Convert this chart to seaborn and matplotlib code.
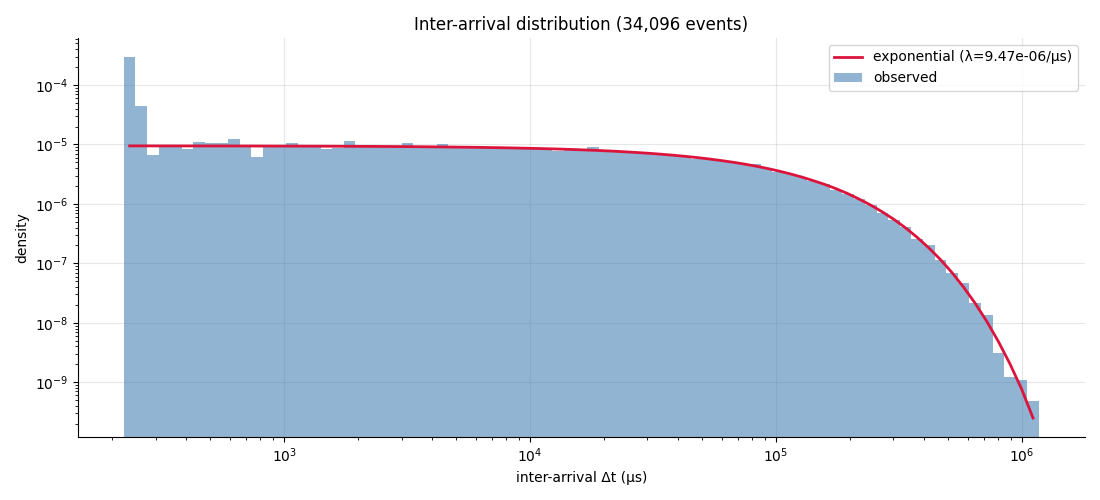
import numpy as np
import pandas as pd
import seaborn as sns
import matplotlib
matplotlib.use("Agg")
import matplotlib.pyplot as plt

# range of observed inter-arrival times (us), 79 log-spaced bins
t_min = 223.0
t_max = 1.17e6
n_bins = 79

# observed density per bin
observed = [
    3.0e-4, 4.35e-5, 6.6e-6, 9.5e-6, 9.6e-6, 8.3e-6, 1.09e-5, 1.05e-5, 1.04e-5, 1.23e-5,
    9.5e-6, 6.2e-6, 9.6e-6, 9.4e-6, 1.05e-5, 9.5e-6, 9.6e-6, 8.45e-6, 8.8e-6, 1.13e-5,
    9.4e-6, 9.5e-6, 9.3e-6, 9.4e-6, 1.05e-5, 9.2e-6, 9.3e-6, 1.0e-5, 9.1e-6, 9.0e-6,
    8.9e-6, 8.9e-6, 8.8e-6, 8.7e-6, 8.6e-6, 8.5e-6, 8.4e-6, 7.8e-6, 8.2e-6, 8.1e-6,
    9.0e-6, 7.8e-6, 7.6e-6, 7.4e-6, 7.6e-6, 7.0e-6, 6.8e-6, 6.5e-6, 6.3e-6, 5.8e-6,
    5.7e-6, 5.4e-6, 5.05e-6, 4.7e-6, 4.68e-6, 3.95e-6, 3.47e-6, 3.2e-6, 2.85e-6, 2.45e-6,
    2.16e-6, 1.71e-6, 1.49e-6, 1.21e-6, 9.7e-7, 7.06e-7, 5.46e-7, 4.01e-7, 2.55e-7, 2.0e-7,
    1.12e-7, 6.8e-8, 4.6e-8, 2.14e-8, 1.35e-8, 3.1e-9, 1.23e-9, 1.1e-9, 4.9e-10,
]

# fitted exponential curve at bin centres
fitted = [
    9.45e-6, 9.45e-6, 9.44e-6, 9.44e-6, 9.44e-6, 9.43e-6, 9.43e-6, 9.42e-6, 9.42e-6, 9.41e-6,
    9.41e-6, 9.40e-6, 9.39e-6, 9.38e-6, 9.37e-6, 9.36e-6, 9.35e-6, 9.34e-6, 9.32e-6, 9.30e-6,
    9.28e-6, 9.27e-6, 9.24e-6, 9.22e-6, 9.19e-6, 9.16e-6, 9.12e-6, 9.08e-6, 9.03e-6, 8.98e-6,
    8.94e-6, 8.87e-6, 8.81e-6, 8.74e-6, 8.65e-6, 8.57e-6, 8.47e-6, 8.37e-6, 8.25e-6, 8.12e-6,
    7.98e-6, 7.83e-6, 7.66e-6, 7.47e-6, 7.27e-6, 7.06e-6, 6.82e-6, 6.57e-6, 6.30e-6, 6.01e-6,
    5.71e-6, 5.38e-6, 5.05e-6, 4.70e-6, 4.34e-6, 3.97e-6, 3.59e-6, 3.21e-6, 2.84e-6, 2.47e-6,
    2.13e-6, 1.80e-6, 1.49e-6, 1.20e-6, 9.51e-7, 7.31e-7, 5.46e-7, 3.94e-7, 2.73e-7, 1.82e-7,
    1.16e-7, 7.0e-8, 3.98e-8, 2.13e-8, 1.06e-8, 4.87e-9, 2.05e-9, 7.78e-10, 2.5e-10,
]

title = "Inter-arrival distribution (34,096 events)"
fit_label = "exponential (λ=9.47e-06/μs)"

log_edges = np.linspace(np.log10(t_min), np.log10(t_max), n_bins + 1)
centres = 10 ** ((log_edges[:-1] + log_edges[1:]) / 2)
df = pd.DataFrame({"dt": centres, "observed": observed, "fitted": fitted})

fig, ax = plt.subplots(figsize=(11, 5), dpi=100)

# bars: the weights are the bar heights; bins are given in log10 units
sns.histplot(data=df, x="dt", weights="observed", bins=list(log_edges), stat="count",
             log_scale=True, color="steelblue", alpha=0.6, linewidth=0,
             label="observed", ax=ax)
ax.set_yscale("log")
sns.lineplot(data=df, x="dt", y="fitted", color="crimson", linewidth=2,
             label=fit_label, ax=ax)

ax.set_ylim(1.2e-10, 6.17e-4)
ax.set_title(title, fontsize=12)
ax.set_xlabel("inter-arrival Δt (μs)")
ax.set_ylabel("density")
ax.grid(True, which="major", alpha=0.3)
ax.set_axisbelow(True)
sns.despine(ax=ax)
ax.legend(loc="upper right")

fig.subplots_adjust(left=0.071, right=0.986, top=0.924, bottom=0.126)
fig.savefig("out.png")
